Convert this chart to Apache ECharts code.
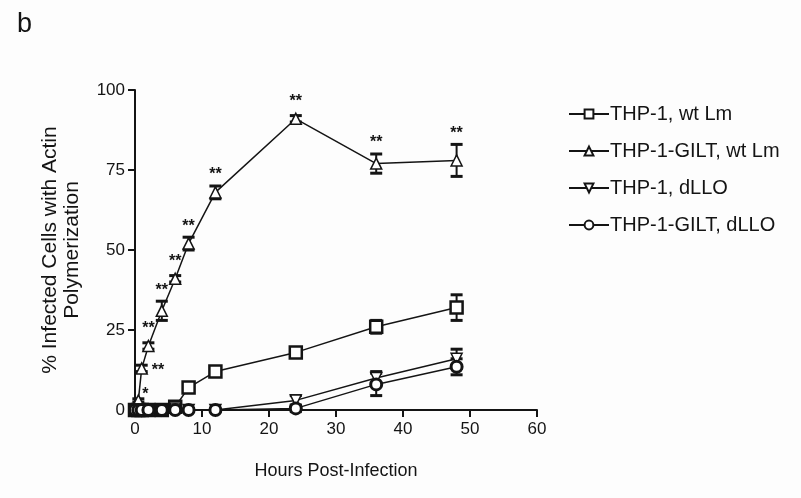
<!DOCTYPE html>
<html>
<head>
<meta charset="utf-8">
<script src="https://cdn.jsdelivr.net/npm/echarts@6/dist/echarts.min.js"></script>
<style>
  html, body { margin: 0; padding: 0; background: #fdfdfd; }
  #chart { width: 801px; height: 498px; }
</style>
</head>
<body>
<div id="chart"></div>
<script>
// hours post-infection
const hours = [0, 0.5, 1, 2, 4, 6, 8, 12, 24, 36, 48]

// % infected cells with actin polymerization (mean, error)
const thp1Wt      = [0, 0, 0, 0, 0, 1, 7, 12, 18, 26, 32]
const thp1WtErr   = [0, 0, 0, 0, 0, 0.5, 1, 1, 1.5, 2, 4]
const giltWt      = [0, 3, 13, 20, 31, 41, 52, 68, 91, 77, 78]
const giltWtErr   = [0, 0.5, 1, 1, 3, 1, 2, 2, 1, 3, 5]
const thp1Dllo    = [0, 0, 0, 0, 0, 0.5, 0, 0, 3, 10, 16]
const thp1DlloErr = [0, 0, 0, 0, 0, 0.5, 0, 0, 1.5, 2, 3]
const giltDllo    = [0, 0, 0, 0, 0, 0, 0, 0, 0.5, 8, 13.5]
const giltDlloErr = [0, 0, 0, 0, 0, 0, 0, 0, 1, 3.5, 2.5]

// significance marks on THP-1-GILT, wt Lm
const giltSig = ['', '*', '**', '**', '**', '**', '**', '**', '**', '**', '**']
const noSig = hours.map(() => '')

const xTicks = [0, 10, 20, 30, 40, 50, 60]
const yTicks = [0, 25, 50, 75, 100]

const names = ['THP-1, wt Lm', 'THP-1-GILT, wt Lm', 'THP-1, dLLO', 'THP-1-GILT, dLLO']
const font = '"Liberation Sans", Arial, sans-serif'
const ink = '#141414'

function pairs(vals) {
  return hours.map((h, i) => [h, vals[i]])
}

// error bars (and significance stars) drawn from mean +/- err
function errSeries(vals, errs, sig) {
  return {
    type: 'custom',
    silent: true,
    z: 3,
    clip: false,
    renderItem: function (params, api) {
      const i = params.dataIndex
      const pt = api.coord([api.value(0), api.value(1)])
      const lo = api.coord([api.value(0), api.value(1) - api.value(2)])
      const hi = api.coord([api.value(0), api.value(1) + api.value(2)])
      const w = 6
      const st = { stroke: ink, lineWidth: 3 }
      const kids = []
      if (api.value(2) > 0) {
        kids.push(
          { type: 'line', shape: { x1: lo[0], y1: lo[1], x2: hi[0], y2: hi[1] }, style: { stroke: ink, lineWidth: 2 } },
          { type: 'line', shape: { x1: lo[0] - w, y1: lo[1], x2: lo[0] + w, y2: lo[1] }, style: st },
          { type: 'line', shape: { x1: hi[0] - w, y1: hi[1], x2: hi[0] + w, y2: hi[1] }, style: st }
        )
      }
      if (sig[i]) {
        const side = i === 1 || i === 2
        const top = Math.min(hi[1], pt[1] - 6)
        kids.push({
          type: 'text',
          style: {
            text: sig[i],
            x: side ? pt[0] + (i === 1 ? 4 : 10) : pt[0],
            y: side ? pt[1] + (i === 1 ? -6 : 2) : top - 3,
            align: side ? 'left' : 'center',
            verticalAlign: side ? 'middle' : 'bottom',
            fill: ink,
            font: 'bold 16px ' + font
          }
        })
      }
      return { type: 'group', children: kids }
    },
    encode: { x: 0, y: 1 },
    data: hours.map((h, i) => [h, vals[i], errs[i]])
  }
}

function lineSeries(name, vals, symbol, size, bw) {
  return {
    name: name,
    type: 'line',
    symbol: symbol,
    symbolSize: size,
    showAllSymbol: true,
    clip: false,
    z: 4,
    lineStyle: { color: ink, width: 1.5 },
    itemStyle: { color: '#fff', borderColor: ink, borderWidth: bw },
    data: pairs(vals)
  }
}

const option = {
  backgroundColor: '#fdfdfd',
  animation: false,
  textStyle: { fontFamily: font, color: ink },
  title: {
    text: 'b',
    left: 12,
    top: 6,
    textStyle: { fontSize: 27, fontWeight: 'normal', color: ink, fontFamily: font }
  },
  legend: {
    orient: 'vertical',
    left: 563,
    top: 99,
    itemWidth: 40,
    itemHeight: 11,
    itemGap: 17,
    data: names,
    textStyle: { fontSize: 20, color: ink, fontFamily: font, padding: [0, 0, 0, -4] }
  },
  grid: { left: 135, right: 264, top: 90, bottom: 88 },
  xAxis: {
    type: 'value',
    min: 0,
    max: 60,
    interval: 10,
    name: 'Hours Post-Infection',
    nameLocation: 'middle',
    nameGap: 52,
    nameTextStyle: { fontSize: 18, color: ink, verticalAlign: 'top' },
    axisLine: { lineStyle: { color: ink, width: 2 } },
    axisTick: { show: true, length: 7, lineStyle: { color: ink, width: 2 } },
    axisLabel: { fontSize: 17, color: ink, margin: 11, formatter: v => xTicks.includes(v) ? String(v) : '' },
    splitLine: { show: false }
  },
  yAxis: {
    type: 'value',
    min: 0,
    max: 100,
    interval: 25,
    name: '% Infected Cells with Actin\nPolymerization',
    nameLocation: 'middle',
    nameGap: 52,
    nameTextStyle: { fontSize: 21, color: ink, lineHeight: 22 },
    axisLine: { show: true, lineStyle: { color: ink, width: 2 } },
    axisTick: { show: true, length: 7, lineStyle: { color: ink, width: 2 } },
    axisLabel: { fontSize: 17, color: ink, margin: 10, formatter: v => yTicks.includes(v) ? String(v) : '' },
    splitLine: { show: false }
  },
  series: [
    errSeries(thp1Wt, thp1WtErr, noSig),
    errSeries(giltWt, giltWtErr, giltSig),
    errSeries(thp1Dllo, thp1DlloErr, noSig),
    errSeries(giltDllo, giltDlloErr, noSig),
    lineSeries(names[0], thp1Wt, 'rect', 12, 2.5),
    lineSeries(names[1], giltWt, 'triangle', 11, 1.5),
    lineSeries(names[2], thp1Dllo, 'path://M0,0 L10,0 L5,9 Z', 11, 1.5),
    lineSeries(names[3], giltDllo, 'circle', 11, 3)
  ]
}

const chart = echarts.init(document.getElementById('chart'))
chart.setOption(option)
</script>
</body>
</html>
